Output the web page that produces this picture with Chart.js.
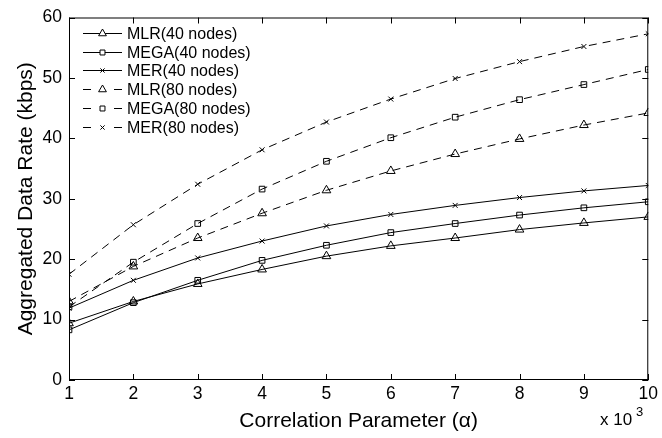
<!DOCTYPE html>
<html>
<head>
<meta charset="utf-8">
<script src="https://cdn.jsdelivr.net/npm/chart.js@4"></script>
<style>
  html, body { margin: 0; padding: 0; background: #fff; }
  #wrap { width: 662px; height: 438px; }
</style>
</head>
<body>
<div id="wrap"><canvas id="rateChart" width="662" height="438"></canvas></div>
<script>
const alphaK = [1, 2, 3, 4, 5, 6, 7, 8, 9, 10];
const yTicks = [0, 10, 20, 30, 40, 50, 60];

const mlr40  = [9.4, 13.0, 15.9, 18.3, 20.5, 22.2, 23.5, 24.9, 26.0, 27.0];
const mega40 = [8.3, 12.8, 16.5, 19.8, 22.3, 24.4, 25.9, 27.3, 28.5, 29.5];
const mer40  = [11.9, 16.5, 20.2, 23.0, 25.5, 27.4, 28.9, 30.2, 31.3, 32.2];
const mlr80  = [13.0, 18.8, 23.5, 27.6, 31.4, 34.6, 37.4, 39.9, 42.2, 44.2];
const mega80 = [12.1, 19.5, 25.9, 31.6, 36.2, 40.1, 43.5, 46.4, 48.9, 51.4];
const mer80  = [17.5, 25.7, 32.4, 38.1, 42.7, 46.5, 49.9, 52.7, 55.2, 57.3];

const FONT = "'Liberation Sans', Arial, Helvetica, sans-serif";
const DASH = [8, 6];

function series(label, vals, marker, radius, dashed) {
    return {
        label: label,
        data: alphaK.map((x, i) => ({ x: x, y: vals[i] })),
        borderColor: "#000",
        borderWidth: 1,
        borderDash: dashed ? DASH : [],
        pointStyle: marker,
        pointRadius: radius,
        pointBorderColor: "#000",
        pointBorderWidth: 1,
        pointBackgroundColor: "rgba(0,0,0,0)",
        fill: false,
        tension: 0,
    };
}

// box, inward ticks on all four sides, the x10^3 note and the legend
const frame = {
    id: "frame",
    afterDatasetsDraw(chart) {
        const { ctx, chartArea: a, scales } = chart;
        ctx.save();
        ctx.strokeStyle = "#000";
        ctx.lineWidth = 1;
        ctx.strokeRect(a.left + 0.5, a.top + 0.5, a.right - a.left - 1, a.bottom - a.top - 1);
        ctx.beginPath();
        alphaK.forEach(v => {
            const px = Math.round(scales.x.getPixelForValue(v)) + 0.5;
            ctx.moveTo(px, a.bottom); ctx.lineTo(px, a.bottom - 6);
            ctx.moveTo(px, a.top); ctx.lineTo(px, a.top + 6);
        });
        yTicks.forEach(v => {
            const py = Math.round(scales.y.getPixelForValue(v)) + 0.5;
            ctx.moveTo(a.left, py); ctx.lineTo(a.left + 6, py);
            ctx.moveTo(a.right, py); ctx.lineTo(a.right - 6, py);
        });
        ctx.stroke();

        ctx.fillStyle = "#000";
        ctx.textBaseline = "alphabetic";
        ctx.textAlign = "left";
        ctx.font = "17px " + FONT;
        ctx.fillText("x 10", 600, 425);
        ctx.font = "13px " + FONT;
        ctx.fillText("3", 636, 416);

        const x0 = 83, x1 = 122, xm = 102.5, y0 = 32.7, dy = 18.8;
        chart.data.datasets.forEach((ds, i) => {
            const y = Math.round(y0 + i * dy) + 0.5;
            ctx.beginPath();
            if (ds.borderDash.length) {
                ctx.moveTo(x0, y); ctx.lineTo(x0 + 8, y);
                ctx.moveTo(x1 - 8, y); ctx.lineTo(x1, y);
            } else {
                ctx.moveTo(x0, y); ctx.lineTo(x1, y);
            }
            ctx.stroke();
            ctx.fillStyle = "#fff";
            Chart.helpers.drawPoint(ctx, {
                pointStyle: ds.pointStyle, radius: ds.pointRadius - 0.5, borderWidth: 1, rotation: 0
            }, xm, y);
            ctx.fillStyle = "#000";
            ctx.font = "16px " + FONT;
            ctx.textBaseline = "middle";
            ctx.fillText(ds.label, 127, y + 1);
        });
        ctx.restore();
    }
};

new Chart(document.getElementById("rateChart"), {
    type: "line",
    data: {
        datasets: [
            series("MLR(40 nodes)",  mlr40,  "triangle", 5, false),
            series("MEGA(40 nodes)", mega40, "rect",     4, false),
            series("MER(40 nodes)",  mer40,  "crossRot", 3.5, false),
            series("MLR(80 nodes)",  mlr80,  "triangle", 5, true),
            series("MEGA(80 nodes)", mega80, "rect",     4, true),
            series("MER(80 nodes)",  mer80,  "crossRot", 3.5, true),
        ],
    },
    options: {
        responsive: false,
        animation: false,
        layout: { padding: { top: 13, right: 10, left: 0, bottom: 0 } },
        plugins: { legend: { display: false }, tooltip: { enabled: false } },
        scales: {
            x: {
                type: "linear",
                min: 1, max: 10,
                afterFit: s => { s.height = 58; },
                afterBuildTicks: s => { s.ticks = alphaK.map(v => ({ value: v })); },
                grid: { display: false, drawTicks: false },
                border: { display: false },
                ticks: { color: "#000", font: { family: FONT, size: 17.5 }, padding: 4, maxRotation: 0 },
                title: { display: true, text: "Correlation Parameter (α)", color: "#000",
                         font: { family: FONT, size: 21 }, padding: { top: 4, bottom: 4 } },
            },
            y: {
                min: 0, max: 60,
                afterFit: s => { s.width = 69; },
                afterBuildTicks: s => { s.ticks = yTicks.map(v => ({ value: v })); },
                grid: { display: false, drawTicks: false },
                border: { display: false },
                ticks: { color: "#000", font: { family: FONT, size: 17.5 }, padding: 7 },
                title: { display: true, text: "Aggregated Data Rate (kbps)", color: "#000",
                         font: { family: FONT, size: 21 }, padding: { top: 14, bottom: 0 } },
            },
        },
    },
    plugins: [frame],
});
</script>
</body>
</html>
